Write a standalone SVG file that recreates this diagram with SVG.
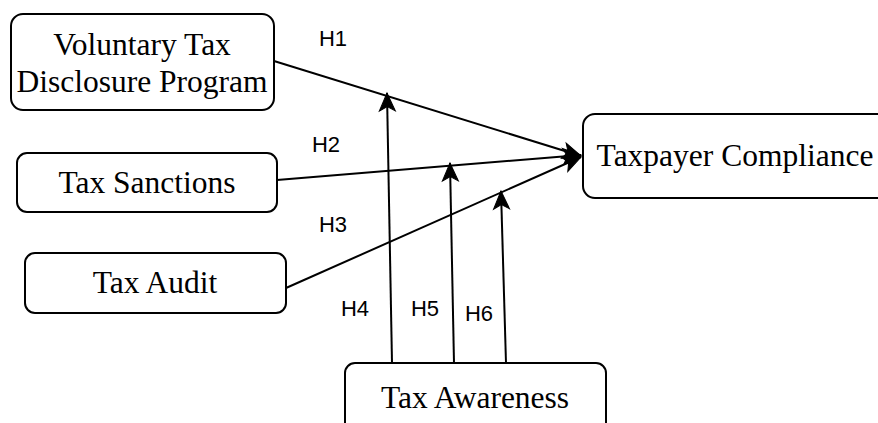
<svg xmlns="http://www.w3.org/2000/svg" width="878" height="423" viewBox="0 0 878 423">
<style>
.box{fill:#fff;stroke:#000;stroke-width:2}
.t{font-family:"Liberation Serif","Times New Roman",serif;font-size:31.5px;fill:#000;text-anchor:middle}
.h{font-family:"Liberation Sans",Arial,sans-serif;font-size:22px;fill:#000;text-anchor:middle}
.c{fill:none;stroke:#000;stroke-width:2;marker-end:url(#arr)}
</style>
<defs>
<marker id="arr" markerUnits="userSpaceOnUse" markerWidth="22" markerHeight="22" viewBox="-20 -11 22 22" refX="0" refY="0" orient="auto">
<path d="M0,0 L-18,-8 L-13.5,0 L-18,8 Z" fill="#000" stroke="#000" stroke-width="1"/>
</marker>
</defs>
<g id="connectors">
<path class="c" d="M274,61 L581,156"/>
<path class="c" d="M277,180 L581,155"/>
<path class="c" d="M286,288 L581,157"/>
<path class="c" d="M392,363 L387,93"/>
<path class="c" d="M454,363 L450,163"/>
<path class="c" d="M506,363 L501,191"/>
<text class="h" x="333" y="46">H1</text>
<text class="h" x="326" y="152">H2</text>
<text class="h" x="333" y="232">H3</text>
<text class="h" x="355" y="316">H4</text>
<text class="h" x="425" y="316">H5</text>
<text class="h" x="479" y="321">H6</text>
</g>
<g id="voluntary">
<rect class="box" x="11" y="14" width="263" height="96" rx="12"/>
<text class="t" x="142" y="55">Voluntary Tax</text>
<text class="t" x="142" y="92">Disclosure Program</text>
</g>
<g id="sanctions">
<rect class="box" x="17" y="153" width="260" height="59" rx="10"/>
<text class="t" x="147" y="193">Tax Sanctions</text>
</g>
<g id="audit">
<rect class="box" x="25" y="253" width="261" height="60" rx="10"/>
<text class="t" x="155" y="293">Tax Audit</text>
</g>
<g id="compliance">
<rect class="box" x="583" y="114" width="310" height="84" rx="12"/>
<text class="t" x="735" y="166">Taxpayer Compliance</text>
</g>
<g id="awareness">
<rect class="box" x="345" y="363" width="261" height="80" rx="10"/>
<text class="t" x="475" y="408">Tax Awareness</text>
</g>
</svg>
